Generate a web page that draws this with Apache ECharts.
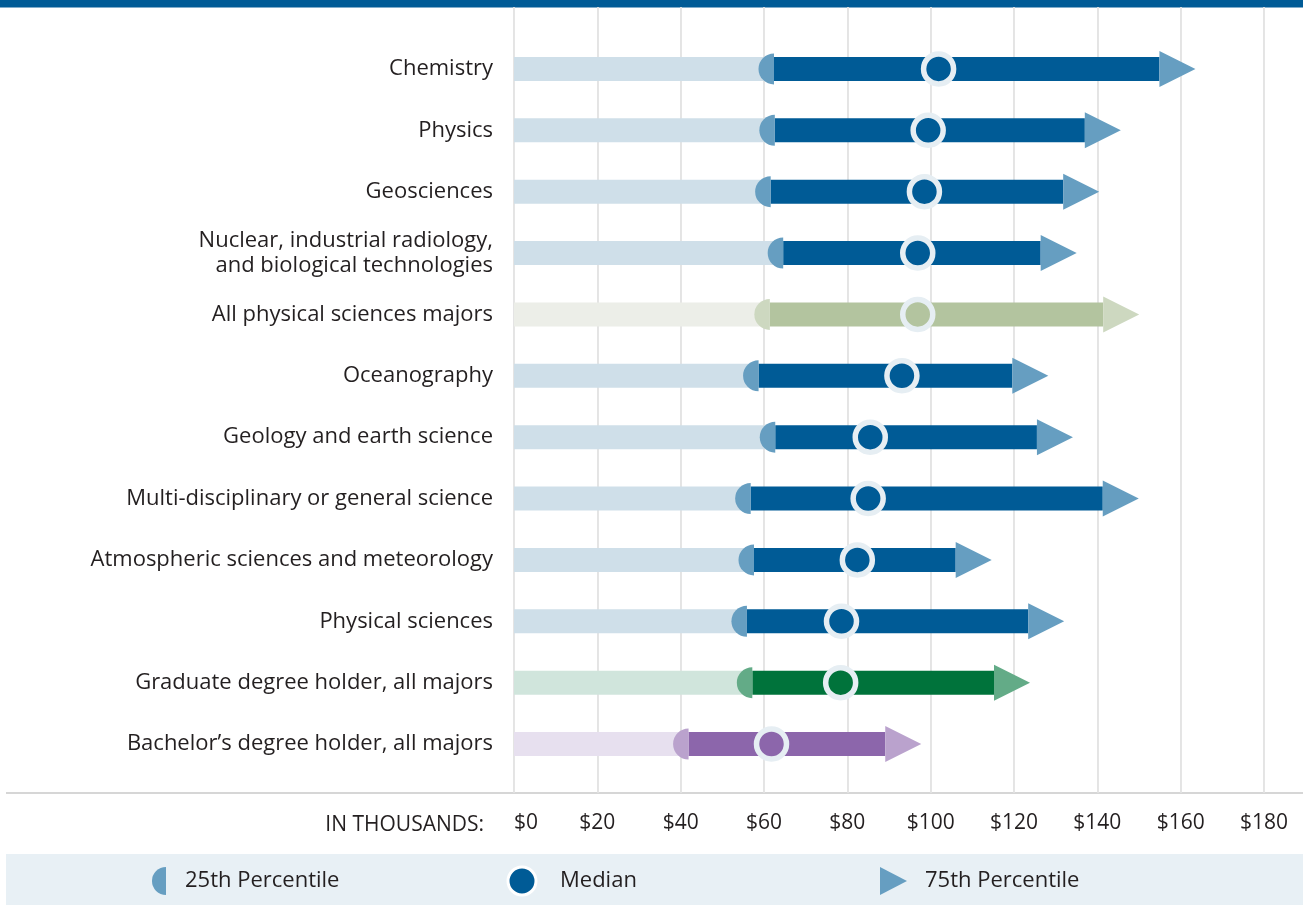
<!DOCTYPE html>
<html>
<head>
<meta charset="utf-8">
<title>Salary ranges by major</title>
<script src="https://cdn.jsdelivr.net/npm/echarts@6/dist/echarts.min.js"></script>
<style>
  html, body { margin: 0; padding: 0; background: #ffffff; }
  #chart { width: 1303px; height: 905px; }
</style>
</head>
<body>
<div id="chart"></div>
<script>
// Salary distribution by field, in thousands of dollars
const categories = [
  'Chemistry',
  'Physics',
  'Geosciences',
  'Nuclear, industrial radiology,\nand biological technologies',
  'All physical sciences majors',
  'Oceanography',
  'Geology and earth science',
  'Multi-disciplinary or general science',
  'Atmospheric sciences and meteorology',
  'Physical sciences',
  'Graduate degree holder, all majors',
  'Bachelor\u2019s degree holder, all majors'
];
const p25Values    = [62.4, 62.6, 61.6, 64.6, 61.4, 58.7, 62.7, 56.8, 57.6, 55.9, 57.2, 41.9];
const medianValues = [101.9, 99.4, 98.5, 96.9, 96.9, 93.1, 85.5, 85.0, 82.4, 78.6, 78.4, 61.8];
const p75Values    = [154.9, 137.0, 131.8, 126.4, 141.4, 119.6, 125.5, 141.3, 106.0, 123.4, 115.2, 89.1];
const tickValues   = [0, 20, 40, 60, 80, 100, 120, 140, 160, 180];
const axisTitle    = 'IN THOUSANDS:';
const legendLabels = ['25th Percentile', 'Median', '75th Percentile'];

// Colour schemes: base = track up to the 25th percentile, main = interquartile bar,
// accent = 25th-percentile cap and 75th-percentile arrow
const palettes = {
  blue:   { base: '#cfdfe9', main: '#005b96', accent: '#669ec1' },
  sage:   { base: '#eceee8', main: '#b3c49f', accent: '#cdd8c0' },
  green:  { base: '#d0e5dc', main: '#00733b', accent: '#63ab87' },
  purple: { base: '#e7e0ef', main: '#8c66ab', accent: '#baa2cd' }
};
const rowPalette = {
  'All physical sciences majors': 'sage',
  'Graduate degree holder, all majors': 'green',
  'Bachelor\u2019s degree holder, all majors': 'purple'
};
const MEDIAN_RING = '#e6eef3';
const TEXT = '#231f20';
const FONT = '"Open Sans", "Noto Sans", sans-serif';

const chart = echarts.init(document.getElementById('chart'), null, { renderer: 'canvas' });

const seriesData = categories.map((c, i) => [i, p25Values[i], medianValues[i], p75Values[i]]);

function renderRow(params, api) {
  const idx = api.value(0);
  const p25 = api.value(1), med = api.value(2), p75 = api.value(3);
  const pal = palettes[rowPalette[categories[idx]] || 'blue'];
  const start = api.coord([0, idx]);
  const y = start[1];
  const x0 = start[0];
  const x25 = api.coord([p25, idx])[0];
  const xMed = api.coord([med, idx])[0];
  const x75 = api.coord([p75, idx])[0];
  const h = 24;
  const capR = 15.5;
  const arrowHalf = 18, arrowLen = 36;
  return {
    type: 'group',
    children: [
      { type: 'rect', shape: { x: x0, y: y - h / 2, width: x25 - x0, height: h },
        style: { fill: pal.base } },
      { type: 'rect', shape: { x: x25, y: y - h / 2, width: x75 - x25, height: h },
        style: { fill: pal.main } },
      { type: 'sector', shape: { cx: x25, cy: y, r0: 0, r: capR,
          startAngle: Math.PI / 2, endAngle: Math.PI * 3 / 2, clockwise: true },
        style: { fill: pal.accent } },
      { type: 'polygon', shape: { points: [[x75, y - arrowHalf], [x75 + arrowLen, y], [x75, y + arrowHalf]] },
        style: { fill: pal.accent } },
      { type: 'circle', shape: { cx: xMed, cy: y, r: 15 },
        style: { fill: pal.main, stroke: MEDIAN_RING, lineWidth: 5.5 } }
    ]
  };
}

const legendY = 881;
const option = {
  backgroundColor: '#ffffff',
  animation: false,
  textStyle: { fontFamily: FONT },
  grid: [
    { left: 514, right: 39, top: 7, bottom: 112 },
    { left: 514, right: 39, top: 38.2, height: 736.5 }
  ],
  xAxis: [
    {
      gridIndex: 0, type: 'value', min: 0, max: 180, interval: 20,
      axisLine: { show: false }, axisTick: { show: false },
      splitLine: { show: true, lineStyle: { color: '#e2e2e2', width: 1.8 } },
      axisLabel: {
        color: TEXT, fontSize: 21, fontFamily: FONT, margin: 20,
        alignMinLabel: 'left',
        formatter: v => (tickValues.indexOf(v) >= 0 ? '$' + v : '')
      }
    },
    { gridIndex: 1, type: 'value', min: 0, max: 180, show: false }
  ],
  yAxis: [
    { gridIndex: 0, type: 'value', show: false },
    {
      gridIndex: 1, type: 'category', inverse: true,
      data: categories.map(c => c.indexOf('\n') >= 0
        ? { value: c, textStyle: { padding: [0, 0, 16, 0] } }
        : { value: c, textStyle: { padding: [3, 0, 0, 0] } }),
      axisLine: { show: false }, axisTick: { show: false }, splitLine: { show: false },
      axisLabel: { color: TEXT, fontSize: 22, fontFamily: FONT, margin: 21, lineHeight: 25, align: 'right' }
    }
  ],
  series: [{
    type: 'custom',
    xAxisIndex: 1, yAxisIndex: 1,
    clip: false,
    data: seriesData,
    renderItem: renderRow,
    z: 5
  }],
  graphic: [
    // top rule
    { type: 'rect', shape: { x: 0, y: 0, width: 1303, height: 7.5 }, style: { fill: '#005b96' } },
    // axis baseline
    { type: 'line', shape: { x1: 6, y1: 793, x2: 1303, y2: 793 }, style: { stroke: '#c9c9c9', lineWidth: 1.6 } },
    // axis title
    { type: 'text', x: 484, y: 825, style: { text: axisTitle, fill: TEXT, font: '21px ' + FONT,
        align: 'right', verticalAlign: 'middle' } },
    // legend band
    { type: 'rect', shape: { x: 6, y: 854, width: 1297, height: 51 }, style: { fill: '#e8f0f5' } },
    { type: 'sector', shape: { cx: 166, cy: legendY, r0: 0, r: 14,
        startAngle: Math.PI / 2, endAngle: Math.PI * 3 / 2, clockwise: true },
      style: { fill: palettes.blue.accent } },
    { type: 'text', x: 185, y: legendY, style: { text: legendLabels[0], fill: TEXT, font: '22px ' + FONT,
        verticalAlign: 'middle' } },
    { type: 'circle', shape: { cx: 522, cy: legendY, r: 14 },
      style: { fill: palettes.blue.main, stroke: '#ffffff', lineWidth: 3 } },
    { type: 'text', x: 560, y: legendY, style: { text: legendLabels[1], fill: TEXT, font: '22px ' + FONT,
        verticalAlign: 'middle' } },
    { type: 'polygon', shape: { points: [[880, legendY - 14], [907, legendY], [880, legendY + 14]] },
      style: { fill: palettes.blue.accent } },
    { type: 'text', x: 925, y: legendY, style: { text: legendLabels[2], fill: TEXT, font: '22px ' + FONT,
        verticalAlign: 'middle' } }
  ]
};

chart.setOption(option);
</script>
</body>
</html>
